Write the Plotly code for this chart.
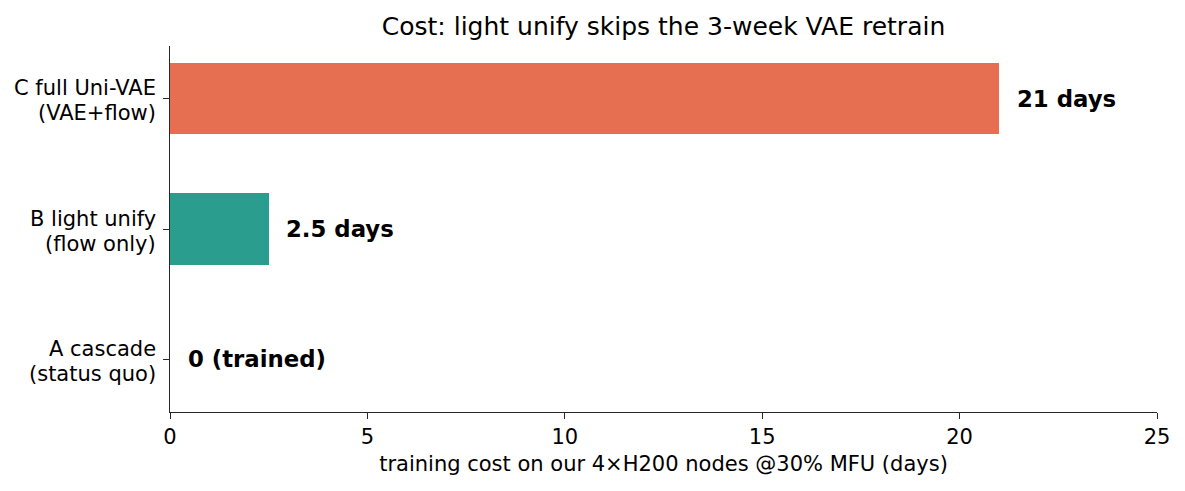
import plotly.graph_objects as go

cat_line1 = ["A cascade", "B light unify", "C full Uni-VAE"]
cat_line2 = ["(status quo)", "(flow only)", "(VAE+flow)"]
values = [0, 2.5, 21]
labels = ["0 (trained)", "2.5 days", "21 days"]
colors = ["#E76F51", "#2A9D8F", "#E76F51"]
x_ticks = [0, 5, 10, 15, 20, 25]

W, H = 1169, 475
AXC = "#262626"
positions = list(range(len(values)))

fig = go.Figure()
fig.add_trace(go.Bar(
    y=positions, x=values, orientation="h",
    marker=dict(color=colors, line=dict(width=0)), width=0.55,
    hoverinfo="skip",
))
for i, (v, t) in enumerate(zip(values, labels)):
    fig.add_annotation(x=v + 0.4, y=i, text="<b>%s</b>" % t, showarrow=False,
                       xanchor="left", yanchor="middle",
                       font=dict(family="DejaVu Sans", size=22.8, color="black"))

# two-line category labels (matplotlib-like tighter line spacing)
for i, (l1, l2) in enumerate(zip(cat_line1, cat_line2)):
    for txt, dy in ((l1, 10.5), (l2, -14.5)):
        fig.add_annotation(x=0, xref="paper", y=i, yref="y", text=txt, showarrow=False,
                           xanchor="right", yanchor="middle", xshift=-14, yshift=dy,
                           borderpad=0, borderwidth=0, align="right",
                           font=dict(family="DejaVu Sans", size=21, color="black"))

fig.update_layout(
    width=W, height=H,
    margin=dict(l=162, r=20, t=38, b=71, autoexpand=False),
    plot_bgcolor="white", paper_bgcolor="white",
    font=dict(family="DejaVu Sans", size=21, color="black"),
    title=dict(text="Cost: light unify skips the 3-week VAE retrain", x=0.5, xref="paper",
               y=1 - 18 / H, yref="container", yanchor="middle",
               font=dict(size=25, color="black")),
    showlegend=False,
    bargap=0,
)
fig.update_xaxes(range=[0, 25], tickvals=x_ticks, ticks="outside", ticklen=6, tickwidth=1.2,
                 tickcolor=AXC, showline=True, linecolor=AXC, linewidth=1.2,
                 showgrid=False, zeroline=False, mirror=False, automargin=False,
                 title=dict(text="training cost on our 4×H200 nodes @30% MFU (days)", standoff=8,
                            font=dict(size=21)))
fig.update_yaxes(range=[-0.4025, 2.4025], tickvals=positions, showticklabels=False,
                 ticks="outside", ticklen=6, tickwidth=1.2, tickcolor=AXC,
                 showline=True, linecolor=AXC, linewidth=1.2, automargin=False,
                 showgrid=False, zeroline=False)

fig.write_html("out.html")
